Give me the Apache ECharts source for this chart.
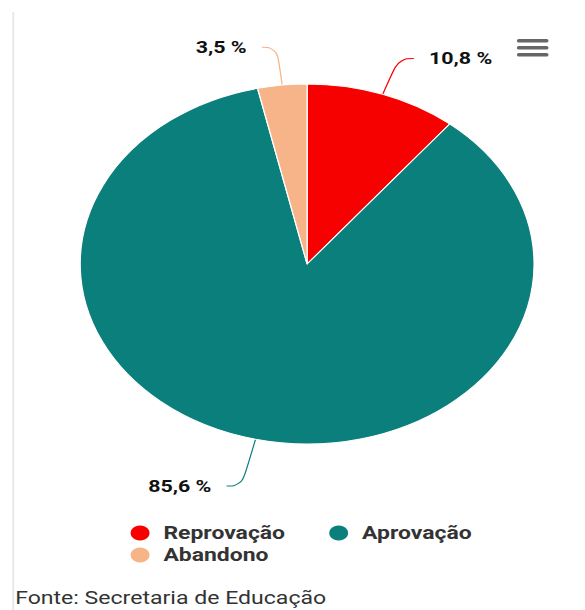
<!DOCTYPE html>
<html>
<head>
<meta charset="utf-8">
<script src="https://cdn.jsdelivr.net/npm/echarts@6/dist/echarts.min.js"></script>
<style>
  html, body { margin: 0; padding: 0; background: #fff; overflow: hidden; }
  /* the reference screenshot is stretched horizontally, so the chart is too */
  #chart { width: 464px; height: 610px; transform: scaleX(1.2608); transform-origin: 0 0; }
</style>
</head>
<body>
<div id="chart"></div>
<script>
const categories = ['Reprovação', 'Aprovação', 'Abandono'];
const values = [10.8, 85.6, 3.5];
const colors = ['#f70000', '#0b7f7c', '#f7b488'];
const lineLengths = [38, 48, 38];
const source = 'Fonte: Secretaria de Educação';

const font = 'Roboto, Arial, sans-serif';

const chart = echarts.init(document.getElementById('chart'), null, { renderer: 'svg' });

function legendStyle(names, top) {
  return {
    data: names,
    left: 101.6,
    top: top,
    padding: 0,
    orient: 'horizontal',
    icon: 'circle',
    itemWidth: 17,
    itemHeight: 17,
    itemGap: 33,
    selectedMode: false,
    textStyle: {
      fontFamily: font,
      fontSize: 18.2,
      fontWeight: 'bold',
      color: '#333',
      lineHeight: 18,
      padding: [0, 0, 0, 5],
    },
  };
}

chart.setOption({
  animation: false,
  legend: [
    legendStyle([categories[0], categories[1]], 523.5),
    legendStyle([categories[2]], 545.5),
  ],
  graphic: [
    {
      // faint frame line on the left
      type: 'line',
      shape: { x1: 10.5, y1: 12, x2: 10.5, y2: 610 },
      style: { stroke: '#e8e8e8', lineWidth: 1.5 },
    },
    {
      // menu button
      type: 'group',
      left: 410,
      top: 39,
      children: [0, 7, 14].map((y) => ({
        type: 'rect',
        shape: { x: 0, y: y, width: 25, height: 3.5, r: 1.5 },
        style: { fill: '#666' },
      })),
    },
    {
      type: 'text',
      left: 12,
      top: 589,
      style: { text: source, fontFamily: font, fontSize: 18.3, fill: '#333' },
    },
  ],
  series: [
    {
      type: 'pie',
      center: [243.6, 264],
      radius: 180,
      startAngle: 90,
      clockwise: true,
      emphasis: { disabled: true },
      itemStyle: { borderColor: '#fff', borderWidth: 1 },
      label: {
        show: true,
        position: 'outside',
        distanceToLabelLine: 12,
        fontFamily: font,
        fontSize: 17,
        fontWeight: 'bold',
        color: '#111',
        formatter: (p) => String(p.value).replace('.', ',') + ' %',
      },
      labelLine: { show: true, length2: 12, smooth: 0.5, lineStyle: { width: 1 } },
      data: categories.map((name, i) => ({
        name: name,
        value: values[i],
        itemStyle: { color: colors[i] },
        labelLine: { length: lineLengths[i] },
      })),
    },
  ],
});
</script>
</body>
</html>
